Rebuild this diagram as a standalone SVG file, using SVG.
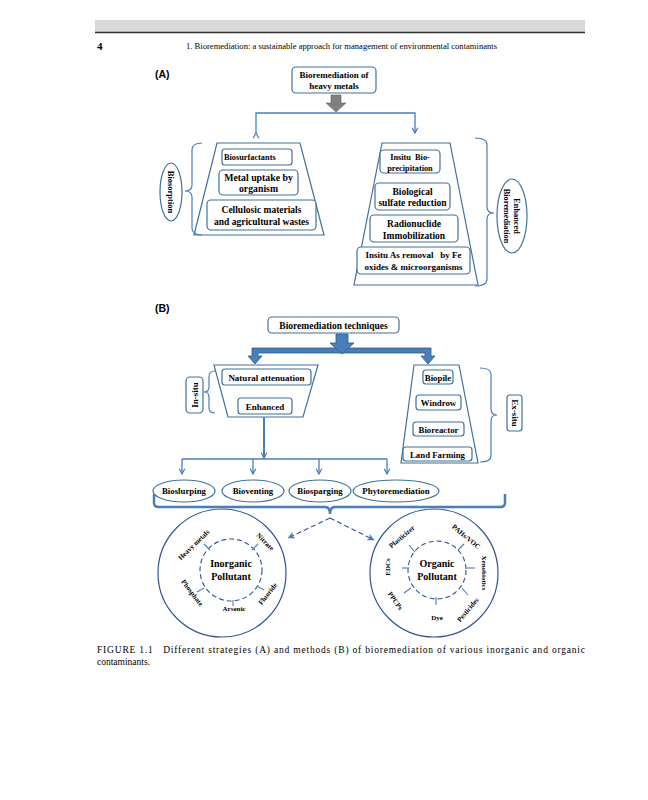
<svg xmlns="http://www.w3.org/2000/svg" width="648" height="800" viewBox="0 0 648 800">
<defs>
<style>
.bx{fill:#fff;stroke:#41719c;stroke-width:1.2}
.tz{fill:#fff;stroke:#41719c;stroke-width:1.2}
.t{font-family:"Liberation Serif",serif;font-weight:bold;fill:#000;text-anchor:middle}
.s{font-family:"Liberation Serif",serif;font-weight:bold;fill:#000;text-anchor:middle;font-size:7px}
.br{fill:none;stroke:#4a7ebb;stroke-width:1.2}
.ln{fill:none;stroke:#4a7ebb;stroke-width:1.3}
.ds{fill:none;stroke:#2f5597;stroke-width:1.1;stroke-dasharray:5,3}
.tk{fill:none;stroke:#4a7ebb;stroke-width:1.1}
</style>
<marker id="ar" viewBox="0 0 8 8" refX="7" refY="4" markerWidth="7" markerHeight="7" markerUnits="userSpaceOnUse" orient="auto">
<path d="M1,0.8 L7,4 L1,7.2" fill="none" stroke="#4a7ebb" stroke-width="1.4"/>
</marker>
<marker id="ar2" viewBox="0 0 8 8" refX="7" refY="4" markerWidth="8" markerHeight="8" markerUnits="userSpaceOnUse" orient="auto">
<path d="M0.5,0.5 L7.5,4 L0.5,7.5 L2,4 Z" fill="#4a7ebb"/>
</marker>
</defs>
<rect width="648" height="800" fill="#fff"/>
<g id="header">
<rect x="95" y="20" width="490" height="12" fill="#d9d9d9"/>
<line x1="95" y1="32.5" x2="585" y2="32.5" stroke="#333" stroke-width="1.5"/>
<text x="97" y="50" font-family="Liberation Serif,serif" font-weight="bold" font-size="11">4</text>
<text x="186" y="49" font-family="Liberation Serif,serif" font-size="8" textLength="311" lengthAdjust="spacingAndGlyphs">1.  Bioremediation: a sustainable approach for management of environmental contaminants</text>
</g>
<text x="155" y="78" font-family="Liberation Sans,sans-serif" font-weight="bold" font-size="10.5">(A)</text>
<text x="155" y="312" font-family="Liberation Sans,sans-serif" font-weight="bold" font-size="10.5">(B)</text>

<g id="connectors">
<polygon points="331,95 341,95 341,103 346,103 336,112 326,103 331,103" fill="#7f7f7f" stroke="#666" stroke-width="0.6"/>
<polyline class="ln" points="256,133 256,113 415,113 415,133" marker-start="url(#ar)" marker-end="url(#ar)"/>
<path d="M252,348 L431,348 L431,356 L435,356 L428,364 L421,356 L425,356 L425,353 L258,353 L258,356 L262,356 L255,364 L248,356 L252,356 Z" fill="#4a7ebb" stroke="#2e5c8a" stroke-width="0.8"/>
<polygon points="336,334 348,334 348,343 354,343 342,354 330,343 336,343" fill="#4a7ebb" stroke="#2e5c8a" stroke-width="0.8"/>
<line x1="264" y1="414" x2="264" y2="458" stroke="#4a7ebb" stroke-width="2" marker-end="url(#ar)"/>
<line class="ln" x1="182" y1="459" x2="387" y2="459"/>
<line class="ln" x1="182" y1="459" x2="182" y2="474" marker-end="url(#ar)"/>
<line class="ln" x1="253" y1="459" x2="253" y2="474" marker-end="url(#ar)"/>
<line class="ln" x1="319" y1="459" x2="319" y2="474" marker-end="url(#ar)"/>
<line class="ln" x1="387" y1="459" x2="387" y2="474" marker-end="url(#ar)"/>
<path d="M154,494 L154,503 Q154,507 159,507 L325,507 Q330,507 330,514 Q330,507 335,507 L500,507 Q505,507 505,503 L505,494" fill="none" stroke="#4a7ebb" stroke-width="2.5"/>
<line class="ds" x1="330" y1="518" x2="288" y2="538" stroke="#4a7ebb" marker-end="url(#ar2)"/>
<line class="ds" x1="330" y1="518" x2="374" y2="540" stroke="#4a7ebb" marker-end="url(#ar2)"/>
</g>

<g id="A-top">
<rect class="bx" x="292" y="67" width="84" height="26" rx="4"/>
<text class="t" x="334" y="78" font-size="9">Bioremediation of</text>
<text class="t" x="334" y="89" font-size="9">heavy metals</text>
</g>

<g id="A-left">
<polygon class="tz" points="217,143 300,143 324,235 194,235"/>
<rect class="bx" x="222" y="149" width="70" height="16" rx="3"/>
<text class="t" x="224" y="160" font-size="8.3" style="text-anchor:start">Biosurfactants</text>
<rect class="bx" x="219" y="170" width="79" height="25" rx="4"/>
<text class="t" x="258.5" y="181" font-size="9.8">Metal uptake by</text>
<text class="t" x="258.5" y="192" font-size="9.8">organism</text>
<rect class="bx" x="207" y="200" width="109" height="30" rx="4"/>
<text class="t" x="261.5" y="212.5" font-size="9.5">Cellulosic materials</text>
<text class="t" x="261.5" y="224.5" font-size="9.5">and agricultural wastes</text>
</g>
<g id="biosorption">
<path class="br" d="M202,143 Q192,143 192,150 L192,185 Q192,191 185,191 Q192,191 192,197 L192,228 Q192,235 202,235"/>
<ellipse class="bx" cx="171" cy="192" rx="11" ry="29"/>
<text class="t" transform="translate(171,192) rotate(90)" x="0" y="3" font-size="8.5">Biosorption</text>
</g>

<g id="A-right">
<polygon class="tz" points="382,143 450,143 478,285 354,285"/>
<rect class="bx" x="380" y="150" width="60" height="23" rx="4"/>
<text class="t" x="410" y="160" font-size="8.3" xml:space="preserve">Insitu  Bio-</text>
<text class="t" x="410" y="170.5" font-size="8.3">precipitation</text>
<rect class="bx" x="375" y="183" width="75" height="27" rx="4"/>
<text class="t" x="412.5" y="194.5" font-size="9.5">Biological</text>
<text class="t" x="412.5" y="206" font-size="9.5">sulfate reduction</text>
<rect class="bx" x="370" y="215" width="88" height="27" rx="4"/>
<text class="t" x="414" y="226.5" font-size="9.5">Radionuclide</text>
<text class="t" x="414" y="238.5" font-size="9.5">Immobilization</text>
<rect class="bx" x="357" y="247" width="113" height="27" rx="4"/>
<text class="t" x="413.5" y="258" font-size="9" xml:space="preserve">Insitu As removal   by Fe</text>
<text class="t" x="413.5" y="269.5" font-size="9">oxides &amp; microorganisms</text>
</g>
<g id="enhanced-bioremediation">
<path class="br" d="M475,138 Q487,138 487,145 L487,207 Q487,213 494,213 Q487,213 487,219 L487,279 Q487,286 475,286"/>
<ellipse class="bx" cx="512" cy="216" rx="15" ry="37"/>
<text class="t" transform="translate(512,216) rotate(90)" x="0" y="-2" font-size="8.3">Enhanced</text>
<text class="t" transform="translate(512,216) rotate(90)" x="0" y="8" font-size="8.3">Bioremediation</text>
</g>

<g id="B-top">
<rect class="bx" x="268" y="317" width="131" height="16" rx="4"/>
<text class="t" x="333.5" y="328.5" font-size="9.5">Bioremediation techniques</text>
</g>

<g id="B-left">
<polygon class="tz" points="214,365 318,365 303,417 228,417"/>
<rect class="bx" x="222" y="369" width="89" height="16" rx="3"/>
<text class="t" x="266.5" y="380.5" font-size="9">Natural attenuation</text>
<rect class="bx" x="238" y="398" width="54" height="16" rx="3"/>
<text class="t" x="265" y="409.5" font-size="9">Enhanced</text>
</g>
<g id="in-situ">
<path class="br" d="M215,371 Q209,371 209,377 L209,387 Q209,392 204,392 Q209,392 209,397 L209,408 Q209,413 215,413"/>
<rect class="bx" x="186" y="377" width="17" height="36" rx="4"/>
<text class="t" transform="translate(194.5,395) rotate(-90)" x="0" y="3" font-size="9">In-situ</text>
</g>

<g id="B-right">
<polygon class="tz" points="414,365 459,365 478,463 401,463"/>
<rect class="bx" x="423" y="370" width="30" height="14" rx="3"/>
<text class="t" x="438" y="380.5" font-size="8.8">Biopile</text>
<rect class="bx" x="416" y="395" width="45" height="15" rx="3"/>
<text class="t" x="438.5" y="406" font-size="8.8">Windrow</text>
<rect class="bx" x="413" y="422" width="51" height="14" rx="3"/>
<text class="t" x="438.5" y="432.5" font-size="8.8">Bioreactor</text>
<rect class="bx" x="403" y="447" width="69" height="14" rx="3"/>
<text class="t" x="437.5" y="457.5" font-size="8.8">Land Farming</text>
</g>
<g id="ex-situ">
<path class="br" d="M480,368 Q491,368 491,374 L491,409 Q491,415 497,415 Q491,415 491,421 L491,456 Q491,462 480,462"/>
<rect class="bx" x="507" y="395" width="15" height="36" rx="3"/>
<text class="t" transform="translate(514.5,413) rotate(90)" x="0" y="3" font-size="9">Ex-situ</text>
</g>

<g id="bioslurping"><ellipse class="bx" cx="184" cy="491" rx="31" ry="11"/><text class="t" x="184" y="494" font-size="8.8">Bioslurping</text></g>
<g id="bioventing"><ellipse class="bx" cx="253" cy="491" rx="31" ry="11"/><text class="t" x="253" y="494" font-size="8.8">Bioventing</text></g>
<g id="biosparging"><ellipse class="bx" cx="320" cy="491" rx="31" ry="11"/><text class="t" x="320" y="494" font-size="8.8">Biosparging</text></g>
<g id="phytoremediation"><ellipse class="bx" cx="396" cy="491" rx="43" ry="11"/><text class="t" x="396" y="494" font-size="8.8">Phytoremediation</text></g>

<g id="inorganic">
<circle cx="222" cy="573" r="64" fill="none" stroke="#2f5597" stroke-width="1.2"/>
<circle class="ds" cx="231" cy="570" r="31"/>
<text class="t" x="231" y="567" font-size="10">Inorganic</text>
<text class="t" x="231" y="580" font-size="10">Pollutant</text>
<line class="tk" x1="210" y1="550" x2="204" y2="544"/>
<line class="tk" x1="252" y1="550" x2="258" y2="544"/>
<line class="tk" x1="204" y1="588" x2="197" y2="592"/>
<line class="tk" x1="233" y1="600" x2="233" y2="606"/>
<line class="tk" x1="257" y1="586" x2="264" y2="590"/>
<text class="s" transform="translate(194,545) rotate(-44)" y="2">Heavy metals</text>
<text class="s" transform="translate(265,542) rotate(45)" y="2">Nitrate</text>
<text class="s" transform="translate(192,593) rotate(53)" y="2">Phosphate</text>
<text class="s" x="234" y="611">Arsenic</text>
<text class="s" transform="translate(268,594) rotate(-52)" y="2">Fluoride</text>
</g>

<g id="organic">
<circle cx="434" cy="573" r="64" fill="none" stroke="#2f5597" stroke-width="1.2"/>
<circle class="ds" cx="437" cy="570" r="29"/>
<text class="t" x="437" y="567" font-size="10">Organic</text>
<text class="t" x="437" y="580" font-size="10">Pollutant</text>
<line class="tk" x1="415" y1="552" x2="409" y2="545"/>
<line class="tk" x1="458" y1="550" x2="464" y2="544"/>
<line class="tk" x1="409" y1="568" x2="402" y2="568"/>
<line class="tk" x1="467" y1="568" x2="475" y2="568"/>
<line class="tk" x1="411" y1="588" x2="404" y2="593"/>
<line class="tk" x1="436" y1="597" x2="436" y2="605"/>
<line class="tk" x1="462" y1="588" x2="468" y2="595"/>
<text class="s" transform="translate(402,537) rotate(-40)" y="2">Plasticizer</text>
<text class="s" transform="translate(466,537) rotate(40)" y="2">PAHs/VOC</text>
<text class="s" transform="translate(484,573) rotate(90)" y="2">Xenobiotics</text>
<text class="s" transform="translate(468,610) rotate(-50)" y="2">Pesticides</text>
<text class="s" x="437" y="620">Dye</text>
<text class="s" transform="translate(395,601) rotate(55)" y="2">PPCPs</text>
<text class="s" transform="translate(388,567) rotate(-90)" y="2">EDCs</text>
</g>

<g id="caption">
<text x="97" y="653" font-family="Liberation Serif,serif" font-size="9.5" textLength="488" xml:space="preserve">FIGURE 1.1   Different strategies (A) and methods (B) of bioremediation of various inorganic and organic</text>
<text x="97" y="665" font-family="Liberation Serif,serif" font-size="9.5">contaminants.</text>
</g>
</svg>
